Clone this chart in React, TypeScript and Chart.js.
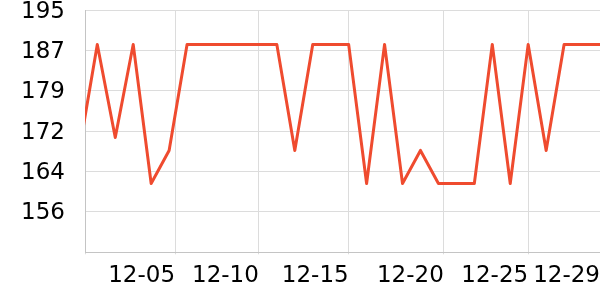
import React, { useEffect, useRef } from 'react';
import { Chart, registerables } from 'chart.js';

Chart.register(...registerables);

// series values, one per data point (index 0 lies just left of the visible range)
const values = [
  168, 188.4, 170.4, 188.4, 161.5, 167.9, 188.4, 188.4, 188.4, 188.4,
  188.4, 188.4, 167.9, 188.4, 188.4, 188.4, 161.5, 188.4, 161.5, 167.9,
  161.5, 161.5, 161.5, 188.4, 161.5, 188.4, 167.9, 188.4, 188.4, 188.4,
];
const pointIndex = values.map((_, i) => i);

// x axis ticks (in point-index units) and their labels
const xMin = 0.315;
const xMax = 29;
const xTickPositions = [0.315, 5.33, 10, 15, 20.3, 25, 29];
const xTickLabels = ['', '12-05', '12-10', '12-15', '12-20', '12-25', '12-29'];

// y axis ticks and their labels
const yMin = 148.2;
const yMax = 195;
const yTickValues = [148.2, 156, 163.8, 171.6, 179.4, 187.2, 195];
const yTickLabels = ['', '156', '164', '172', '179', '187', '195'];

export default function App() {
  const ref = useRef<HTMLCanvasElement | null>(null);

  useEffect(() => {
    document.body.style.margin = '0';
    if (!ref.current) return;
    const font = { family: 'DejaVu Sans', size: 23 };
    const chart = new Chart(ref.current, {
      type: 'line',
      data: {
        datasets: [
          {
            data: pointIndex.map((x, i) => ({ x, y: values[i] })),
            borderColor: '#ef4b2f',
            backgroundColor: '#ef4b2f',
            borderWidth: 3,
            borderJoinStyle: 'round',
            pointRadius: 0,
            pointHoverRadius: 0,
            tension: 0,
            fill: false,
            clip: { left: 0, top: 5, right: 5, bottom: 5 } as any,
          },
        ],
      },
      options: {
        animation: false,
        responsive: false,
        maintainAspectRatio: false,
        events: [],
        layout: { padding: 0 },
        plugins: { legend: { display: false }, tooltip: { enabled: false } },
        scales: {
          x: {
            type: 'linear',
            min: xMin,
            max: xMax,
            afterBuildTicks: (scale: any) => {
              scale.ticks = xTickPositions.map((v) => ({ value: v }));
            },
            afterFit: (scale: any) => {
              scale.height = 47.7;
              scale.paddingLeft = 0;
              scale.paddingRight = 0;
            },
            grid: {
              color: (ctx: any) => (ctx.index === xTickPositions.length - 1 ? 'rgba(0,0,0,0)' : '#dcdcdc'),
              lineWidth: 1,
              drawTicks: true,
              tickLength: 2,
            },
            border: { color: '#c4c4c4', width: 1 },
            ticks: {
              autoSkip: false,
              maxRotation: 0,
              minRotation: 0,
              align: 'end',
              padding: 8,
              color: '#000',
              font,
              callback: (_v: any, i: number) => xTickLabels[i],
            },
          },
          y: {
            type: 'linear',
            min: yMin,
            max: yMax,
            afterBuildTicks: (scale: any) => {
              scale.ticks = yTickValues.map((v) => ({ value: v }));
            },
            afterFit: (scale: any) => {
              scale.width = 85;
              scale.paddingTop = 10.3;
              scale.paddingBottom = 0;
            },
            grid: { color: '#dcdcdc', lineWidth: 1, drawTicks: false },
            border: { color: '#c4c4c4', width: 1 },
            ticks: {
              padding: 20,
              labelOffset: 1.5,
              color: '#000',
              font,
              callback: (_v: any, i: number) => yTickLabels[i],
            },
          },
        },
      },
    });
    return () => chart.destroy();
  }, []);

  return (
    <div style={{ width: 600, height: 300 }}>
      <canvas ref={ref} width={600} height={300} style={{ display: 'block' }} />
    </div>
  );
}
